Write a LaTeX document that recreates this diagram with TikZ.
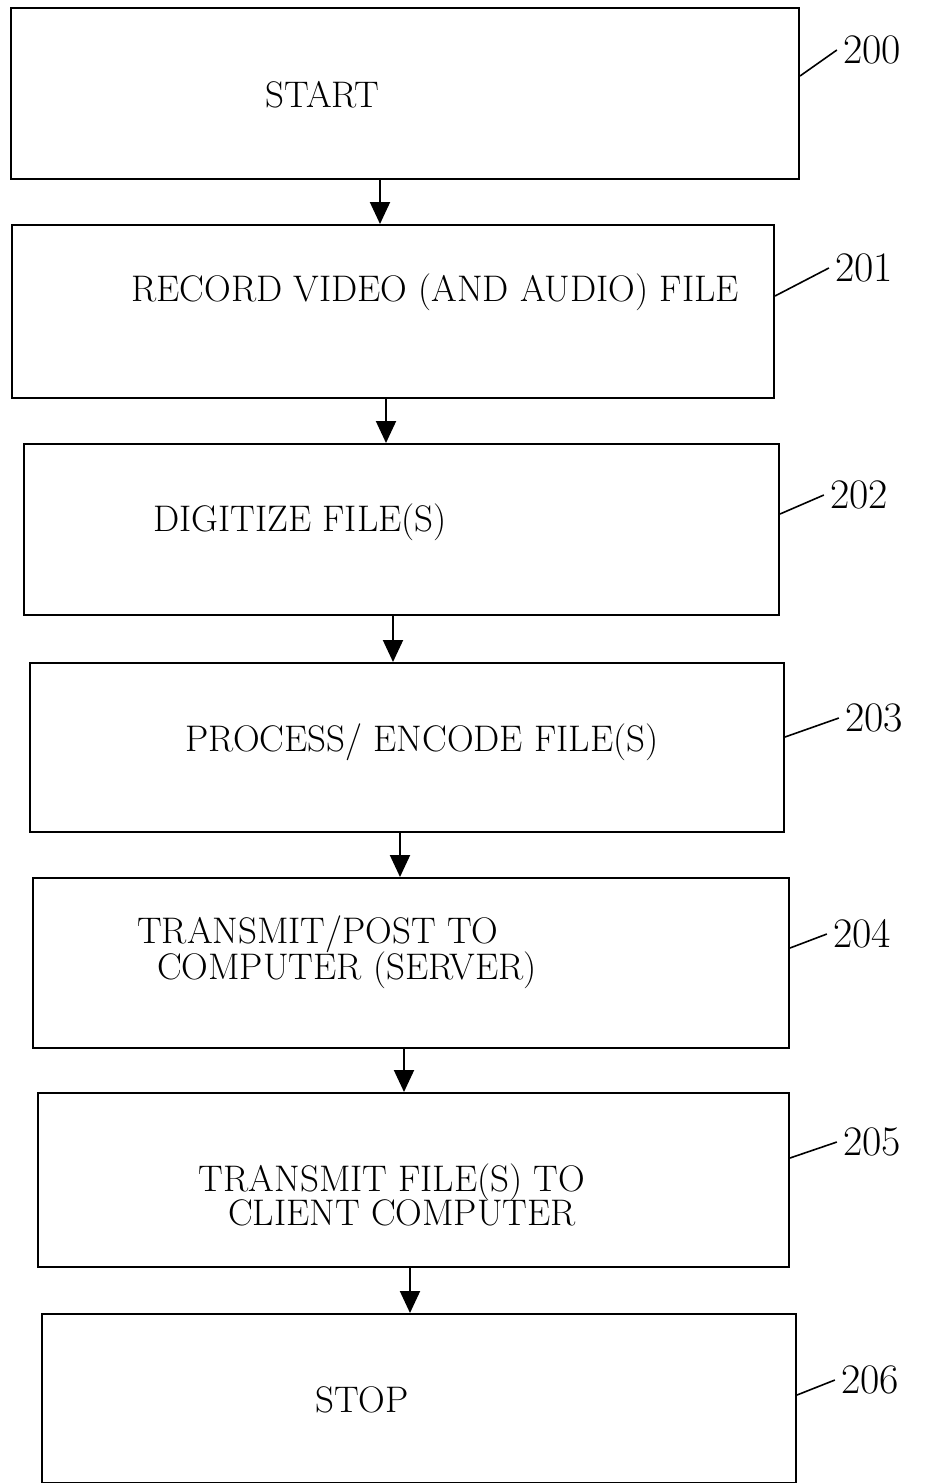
\documentclass[tikz,border=0pt]{standalone}
\usepackage{tikz}
\usetikzlibrary{arrows.meta, positioning}

\begin{document}
\begin{tikzpicture}[
    x=1pt, y=-1pt,
    every node/.style={font=\fontsize{37}{32}\selectfont},
    box/.style={draw, line width=2pt, rectangle, inner sep=0pt},
    reftext/.style={font=\fontsize{42}{42}\selectfont, inner sep=6pt},
    flow/.style={line width=2pt, -{Triangle[length=22pt, width=20pt]}},
    leader/.style={line width=1.6pt}
]
\useasboundingbox (0,0) rectangle (945,1483);

% Boxes
\node[box, minimum width=788pt, minimum height=171pt] (b200) at (405,93.5) {};
\node[box, minimum width=762pt, minimum height=173pt] (b201) at (393,311.5) {};
\node[box, minimum width=755pt, minimum height=171pt] (b202) at (401.5,529.5) {};
\node[box, minimum width=754pt, minimum height=169pt] (b203) at (407,747.5) {};
\node[box, minimum width=756pt, minimum height=170pt] (b204) at (411,963) {};
\node[box, minimum width=751pt, minimum height=174pt] (b205) at (413.5,1180) {};
\node[box, minimum width=754pt, minimum height=169pt] (b206) at (419,1398.5) {};

% Box texts
\node (t200) at (322,95) {START};
\node (t201) at (435,292) {RECORD VIDEO (AND AUDIO) FILE};
\node (t202) at (300,522) {DIGITIZE FILE(S)};
\node (t203) at (422,742) {PROCESS/ ENCODE FILE(S)};
\node[align=left] (t204) at (337,952) {TRANSMIT/POST TO\\[-2pt]\hspace{20pt}COMPUTER (SERVER)};
\node[align=center] (t205) at (392,1195) {TRANSMIT FILE(S) TO\\[-2pt]\hspace{20pt}CLIENT COMPUTER};
\node (t206) at (362,1400) {STOP};

% Arrows
\draw[flow] (380,0 |- b200.south) -- (380,0 |- b201.north);
\draw[flow] (386,0 |- b201.south) -- (386,0 |- b202.north);
\draw[flow] (393,0 |- b202.south) -- (393,0 |- b203.north);
\draw[flow] (400,0 |- b203.south) -- (400,0 |- b204.north);
\draw[flow] (404,0 |- b204.south) -- (404,0 |- b205.north);
\draw[flow] (410,0 |- b205.south) -- (410,0 |- b206.north);

% Reference numerals
\node[reftext] (n200) at (872,50) {200};
\node[reftext] (n201) at (864,268) {201};
\node[reftext] (n202) at (859,495) {202};
\node[reftext] (n203) at (874,718) {203};
\node[reftext] (n204) at (862,934) {204};
\node[reftext] (n205) at (872,1142) {205};
\node[reftext] (n206) at (870,1380) {206};

\draw[leader] (b200.east |- 0,76) -- (n200.west);
\draw[leader] (b201.east |- 0,296) -- (n201.west);
\draw[leader] (b202.east |- 0,514) -- (n202.west);
\draw[leader] (b203.east |- 0,737) -- (n203.west);
\draw[leader] (b204.east |- 0,948) -- (n204.west);
\draw[leader] (b205.east |- 0,1158) -- (n205.west);
\draw[leader] (b206.east |- 0,1395) -- (n206.west);

\end{tikzpicture}
\end{document}
